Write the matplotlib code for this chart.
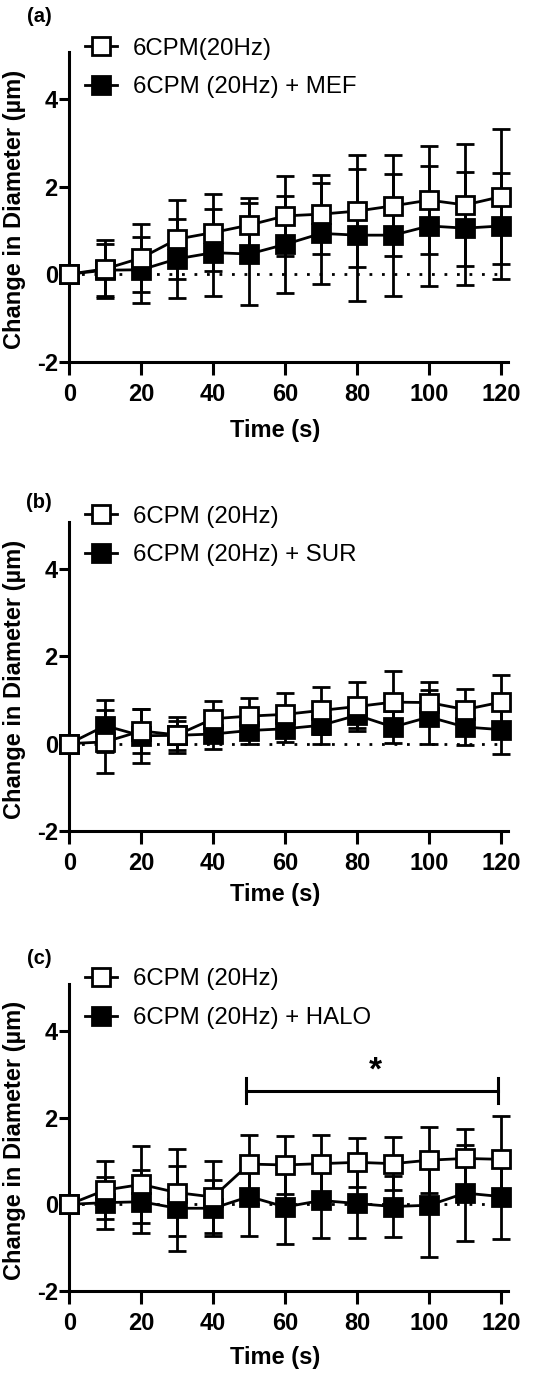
import numpy as np
import matplotlib.pyplot as plt
from matplotlib.lines import Line2D

plt.rcParams['font.family'] = ['Liberation Sans', 'DejaVu Sans']
plt.rcParams['axes.unicode_minus'] = False

time = [0, 10, 20, 30, 40, 50, 60, 70, 80, 90, 100, 110, 120]

# panel (a)
a_open = [0, 0.12, 0.37, 0.80, 0.95, 1.12, 1.33, 1.37, 1.44, 1.56, 1.69, 1.58, 1.77]
a_open_sd = [0, 0.67, 0.78, 0.90, 0.87, 0.63, 0.92, 0.90, 1.27, 1.15, 1.23, 1.40, 1.54]
a_fill = [0, 0.09, 0.10, 0.35, 0.49, 0.46, 0.68, 0.93, 0.89, 0.89, 1.10, 1.05, 1.10]
a_fill_sd = [0, 0.59, 0.75, 0.90, 0.99, 1.17, 1.10, 1.16, 1.50, 1.40, 1.38, 1.29, 1.22]

# panel (b)
b_open = [0, 0.04, 0.29, 0.20, 0.57, 0.63, 0.67, 0.76, 0.85, 0.95, 0.94, 0.78, 0.95]
b_open_sd = [0, 0.72, 0.50, 0.42, 0.40, 0.42, 0.49, 0.53, 0.56, 0.72, 0.47, 0.47, 0.61]
b_fill = [0, 0.41, 0.18, 0.19, 0.22, 0.30, 0.34, 0.42, 0.65, 0.38, 0.61, 0.38, 0.32]
b_fill_sd = [0, 0.60, 0.62, 0.33, 0.35, 0.30, 0.30, 0.42, 0.30, 0.36, 0.62, 0.42, 0.55]

# panel (c)
c_open = [0, 0.33, 0.46, 0.27, 0.17, 0.93, 0.91, 0.94, 0.97, 0.94, 1.02, 1.06, 1.04]
c_open_sd = [0, 0.67, 0.88, 1.01, 0.82, 0.68, 0.66, 0.67, 0.57, 0.62, 0.76, 0.67, 1.01]
c_fill = [0, 0.04, 0.06, -0.09, -0.09, 0.18, -0.06, 0.09, 0.02, -0.05, -0.02, 0.26, 0.18]
c_fill_sd = [0, 0.60, 0.73, 0.98, 0.65, 0.90, 0.86, 0.87, 0.80, 0.70, 1.20, 1.10, 0.99]

panels = [
    ('(a)', a_open, a_open_sd, a_fill, a_fill_sd, '6CPM(20Hz)', '6CPM (20Hz) + MEF'),
    ('(b)', b_open, b_open_sd, b_fill, b_fill_sd, '6CPM (20Hz)', '6CPM (20Hz) + SUR'),
    ('(c)', c_open, c_open_sd, c_fill, c_fill_sd, '6CPM (20Hz)', '6CPM (20Hz) + HALO'),
]

# layout in pixels (figure 552 x 1376)
W, H = 552, 1376
ax_top = [51.7, 521.7, 984.3]
ax_bot = [361.7, 831.0, 1291.0]
leg_top = [37.5, 505.5, 968.5]
lab_y = [16.7, 503.0, 959.0]
xlab_off = [0.184, 0.168, 0.179]

lw = 2.0
ms = 13
cap = 6.5

fig = plt.figure(figsize=(W / 100, H / 100), dpi=100)

for i, (tag, yo, eo, yf, ef, lab_o, lab_f) in enumerate(panels):
    ax = fig.add_axes([69.3 / W, 1 - ax_bot[i] / H, 439 / W, (ax_bot[i] - ax_top[i]) / H])

    ax.plot([0, 120], [0, 0], color='black', lw=lw, linestyle=(0, (1, 3.5)), zorder=1)

    ax.errorbar(time, yo, yerr=eo, fmt='none', ecolor='black', elinewidth=lw,
                capsize=cap, capthick=lw, zorder=2, clip_on=False)
    ax.errorbar(time, yf, yerr=ef, fmt='none', ecolor='black', elinewidth=lw,
                capsize=cap, capthick=lw, zorder=2, clip_on=False)
    ax.plot(time, yf, color='black', lw=lw, marker='s', ms=ms, mfc='black',
            mec='black', mew=lw, zorder=3, clip_on=False)
    ax.plot(time, yo, color='black', lw=lw, marker='s', ms=ms, mfc='white',
            mec='black', mew=lw, zorder=4, clip_on=False)

    ax.set_xlim(0, 122)
    ax.set_ylim(-2, 5.08)
    ax.set_xticks([0, 20, 40, 60, 80, 100, 120])
    ax.set_yticks([-2, 0, 2, 4])
    for s in ['top', 'right']:
        ax.spines[s].set_visible(False)
    for s in ['left', 'bottom']:
        ax.spines[s].set_linewidth(2.2)
    ax.tick_params(axis='x', width=2.2, length=9, pad=6, labelsize=17)
    ax.tick_params(axis='y', width=2.2, length=7.5, pad=0.8, labelsize=17)
    for t in ax.get_xticklabels() + ax.get_yticklabels():
        t.set_fontweight('bold')

    ax.set_ylabel('Change in Diameter (µm)', fontsize=17, fontweight='bold')
    ax.yaxis.set_label_coords(-0.099, 0.49)
    ax.set_xlabel('Time (s)', fontsize=17, fontweight='bold', va='top')
    ax.xaxis.set_label_coords(0.469, -xlab_off[i])

    handles = [
        Line2D([], [], color='black', lw=lw, marker='s', ms=ms, mfc='white', mec='black', mew=lw),
        Line2D([], [], color='black', lw=lw, marker='s', ms=ms, mfc='black', mec='black', mew=lw),
    ]
    ax.legend(handles, [lab_o, lab_f], loc='upper left',
              bbox_to_anchor=(85 / W, 1 - leg_top[i] / H), bbox_transform=fig.transFigure,
              frameon=False, fontsize=17.3, borderpad=0, borderaxespad=0,
              handlelength=1.32, handletextpad=0.68, labelspacing=0.7)

    fig.text(39 / W, 1 - lab_y[i] / H, tag, fontsize=14.5, fontweight='bold',
             ha='center', va='center')

    if tag == '(c)':
        ax.plot([49, 119], [2.62, 2.62], color='black', lw=2.2, zorder=5)
        ax.plot([49, 49], [2.33, 2.91], color='black', lw=2.2, zorder=5)
        ax.plot([119, 119], [2.33, 2.91], color='black', lw=2.2, zorder=5)
        ax.text(85, 2.72, '*', fontsize=24, fontweight='bold', ha='center', va='bottom')

fig.savefig('out.png', dpi=100)
